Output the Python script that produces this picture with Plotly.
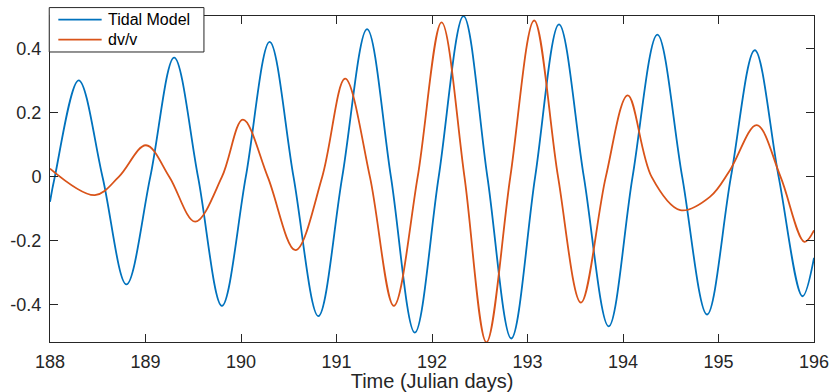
import plotly.graph_objects as go

# Tidal model: extrema and zero crossings
tidal_t = [188.00, 188.05, 188.30, 188.55, 188.80, 189.05, 189.30, 189.55, 189.80,
           190.05, 190.30, 190.55, 190.81, 191.06, 191.32, 191.57, 191.82, 192.07,
           192.33, 192.58, 192.83, 193.08, 193.33, 193.59, 193.85, 194.10, 194.36,
           194.62, 194.88, 195.13, 195.38, 195.63, 195.88, 196.00]
tidal_v = [-0.078, 0.0, 0.302, 0.0, -0.336, 0.0, 0.373, 0.0, -0.403,
           0.0, 0.422, 0.0, -0.435, 0.0, 0.462, 0.0, -0.487, 0.0,
           0.503, 0.0, -0.505, 0.0, 0.477, 0.0, -0.467, 0.0, 0.445,
           0.0, -0.430, 0.0, 0.396, 0.0, -0.373, -0.253]

# dv/v
dvv_t = [188.00, 188.47, 188.72, 189.005, 189.25, 189.52, 189.80, 190.02, 190.28,
         190.57, 190.85, 191.09, 191.35, 191.60, 191.85, 192.10, 192.34, 192.57,
         192.82, 193.07, 193.32, 193.56, 193.82, 194.05, 194.30, 194.60, 194.91,
         195.12, 195.40, 195.65, 195.90, 196.00]
dvv_v = [0.026, -0.057, 0.0, 0.099, 0.0, -0.140, 0.0, 0.179, 0.0,
         -0.229, 0.0, 0.307, 0.0, -0.403, 0.0, 0.483, 0.0, -0.517,
         0.0, 0.489, 0.0, -0.393, 0.0, 0.255, 0.0, -0.104, -0.0625,
         0.021, 0.162, 0.0, -0.203, -0.167]

series_names = ["Tidal Model", "dv/v"]
series_colors = ["#0072BD", "#D95319"]

x_ticks = [188, 189, 190, 191, 192, 193, 194, 195, 196]
x_ticktext = ["188", "189", "190", "191", "192", "193", "194", "195", "196"]
y_ticks = [-0.4, -0.2, 0, 0.2, 0.4]
y_ticktext = ["-0.4", "-0.2", "0", "0.2", "0.4"]

FONT = "Liberation Sans, Arial, Helvetica, sans-serif"
AXC = "#262626"

fig = go.Figure()
for t, v, name, col in [(tidal_t, tidal_v, series_names[0], series_colors[0]),
                        (dvv_t, dvv_v, series_names[1], series_colors[1])]:
    fig.add_trace(go.Scatter(x=t, y=v, mode="lines", name=name, showlegend=False,
                             line=dict(color=col, width=1.8, shape="spline", smoothing=1.0)))

axis_common = dict(showline=True, linecolor=AXC, linewidth=1, mirror="ticks",
                   ticks="inside", ticklen=8, tickcolor=AXC, tickwidth=1,
                   showgrid=False, zeroline=False, automargin=False,
                   tickfont=dict(family=FONT, size=18, color=AXC))

# Legend box (MATLAB style), drawn in axis-domain coordinates
fig.add_shape(type="rect", xref="x domain", yref="y domain",
              x0=-0.001, x1=0.2015, y0=0.8896, y1=1.0258,
              line=dict(color=AXC, width=1), fillcolor="white", layer="above")
row_y = [0.989, 0.9276]
for i in range(2):
    fig.add_shape(type="line", xref="x domain", yref="y domain",
                  x0=0.0109, x1=0.0676, y0=row_y[i], y1=row_y[i],
                  line=dict(color=series_colors[i], width=1.8), layer="above")
    fig.add_annotation(xref="x domain", yref="y domain", x=0.0735, y=row_y[i],
                       xanchor="left", yanchor="middle", showarrow=False,
                       text=series_names[i], font=dict(family=FONT, size=16, color="black"))

fig.update_layout(
    width=830, height=392,
    margin=dict(l=50, r=16, t=16, b=50),
    paper_bgcolor="white", plot_bgcolor="white",
    font=dict(family=FONT, size=18, color=AXC),
    xaxis=dict(range=[188, 196], tickvals=x_ticks, ticktext=x_ticktext,
               ticklabelstandoff=3,
               title=dict(text="Time (Julian days)", font=dict(family=FONT, size=20, color=AXC), standoff=6),
               **axis_common),
    yaxis=dict(range=[-0.516, 0.503], tickvals=y_ticks, ticktext=y_ticktext,
               ticklabelstandoff=4, **axis_common),
    showlegend=False,
)

fig.write_html("out.html")
